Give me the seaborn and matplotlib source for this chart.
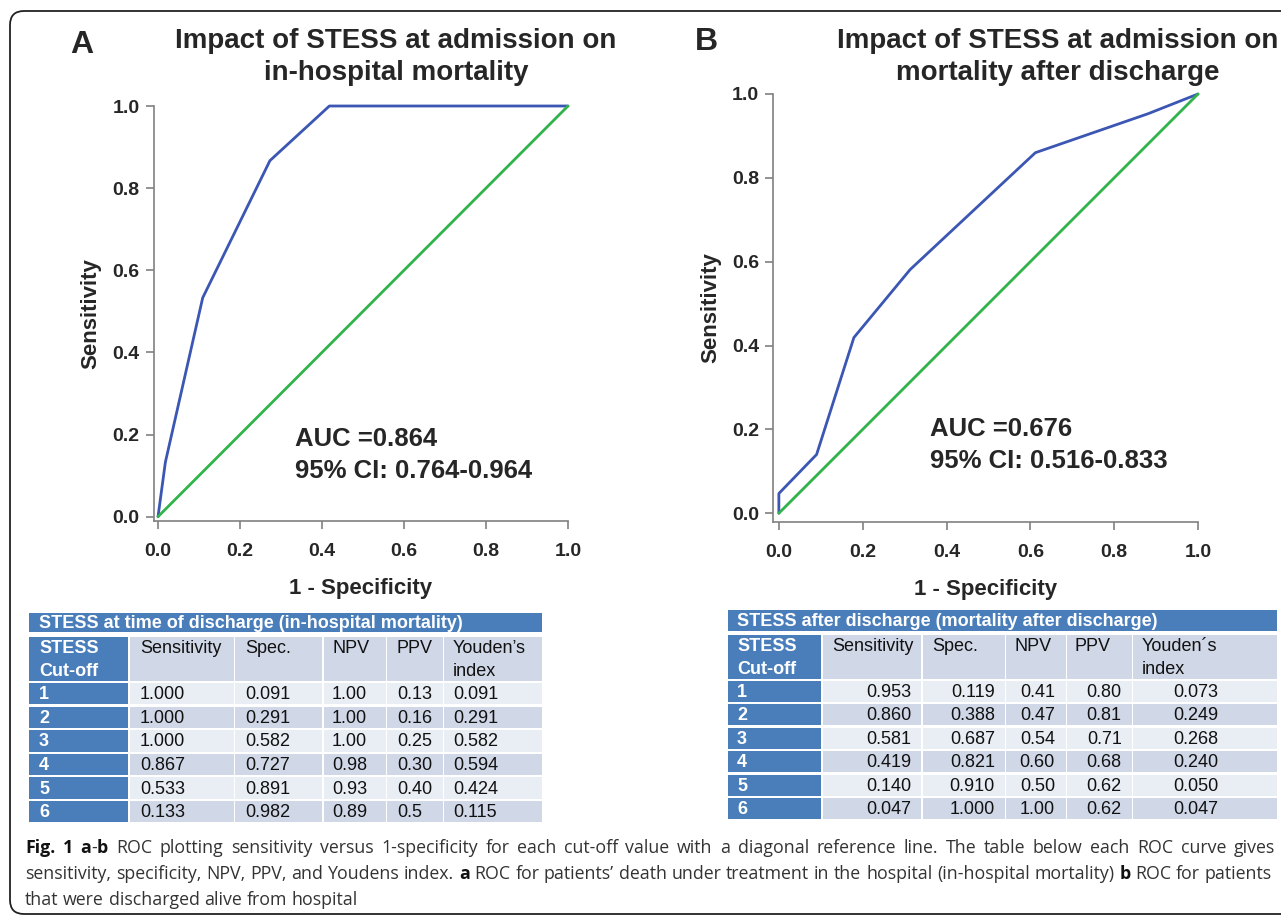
import numpy as np
import pandas as pd
import matplotlib
matplotlib.use("Agg")
import matplotlib.pyplot as plt
import seaborn as sns
from matplotlib.patches import Rectangle, FancyBboxPatch

# --- table values (as printed) ---
cutoffs = ["1", "2", "3", "4", "5", "6"]
header = ["STESS\nCut-off", "Sensitivity", "Spec.", "NPV", "PPV"]

sens_a = ["1.000", "1.000", "1.000", "0.867", "0.533", "0.133"]
spec_a = ["0.091", "0.291", "0.582", "0.727", "0.891", "0.982"]
npv_a = ["1.00", "1.00", "1.00", "0.98", "0.93", "0.89"]
ppv_a = ["0.13", "0.16", "0.25", "0.30", "0.40", "0.5"]
youden_a = ["0.091", "0.291", "0.582", "0.594", "0.424", "0.115"]

sens_b = ["0.953", "0.860", "0.581", "0.419", "0.140", "0.047"]
spec_b = ["0.119", "0.388", "0.687", "0.821", "0.910", "1.000"]
npv_b = ["0.41", "0.47", "0.54", "0.60", "0.50", "1.00"]
ppv_b = ["0.80", "0.81", "0.71", "0.68", "0.62", "0.62"]
youden_b = ["0.073", "0.249", "0.268", "0.240", "0.050", "0.047"]

diag = [0, 1]

title_a = "Impact of STESS at admission on\nin-hospital mortality"
title_b = "Impact of STESS at admission on\nmortality after discharge"
auc_a = "AUC =0.864\n95% CI: 0.764-0.964"
auc_b = "AUC =0.676\n95% CI: 0.516-0.833"
table_title_a = "STESS at time of discharge (in-hospital mortality)"
table_title_b = "STESS after discharge (mortality after discharge)"

BLUE_LINE = "#3b56b3"
GREEN_LINE = "#30b34a"
TBL_BLUE = "#4a7ebb"
TBL_DARK = "#d0d7e7"
TBL_LIGHT = "#e9edf4"
GRAY = "#808080"

sns.set_theme(style="white")
plt.rcParams["font.family"] = ["Liberation Sans", "DejaVu Sans"]

W, H = 1281, 917
fig = plt.figure(figsize=(W / 100, H / 100), dpi=100)

# background canvas in pixel units
canvas = fig.add_axes([0, 0, 1, 1], zorder=0)
canvas.set_xlim(0, W)
canvas.set_ylim(H, 0)
canvas.axis("off")
canvas.add_patch(FancyBboxPatch((10, 11), W + 40, 903, boxstyle="round,pad=0,rounding_size=14",
                                fc="white", ec="#222222", lw=1.3, clip_on=False))


def roc_panel(left, right, top, bottom, xmin, ymin, sens, spec):
    ax = fig.add_axes([left / W, 1 - bottom / H, (right - left) / W, (bottom - top) / H], zorder=2)
    ax.set_facecolor("none")
    tpr = [0.0] + [float(v) for v in sens[::-1]] + [1.0]
    fpr = [0.0] + [1 - float(v) for v in spec[::-1]] + [1.0]
    df = pd.DataFrame({"fpr": fpr, "tpr": tpr})
    sns.lineplot(data=df, x="fpr", y="tpr", sort=False, estimator=None, color=BLUE_LINE,
                 lw=2.0, ax=ax, clip_on=False)
    sns.lineplot(x=diag, y=diag, sort=False, estimator=None, color=GREEN_LINE, lw=2.0, ax=ax,
                 clip_on=False)
    ax.set_xlim(xmin, 1.0)
    ax.set_ylim(ymin, 1.0)
    ticks = [0.0, 0.2, 0.4, 0.6, 0.8, 1.0]
    ax.set_xticks(ticks)
    ax.set_yticks(ticks)
    ax.set_xticklabels([f"{t:.1f}" for t in ticks])
    ax.set_yticklabels([f"{t:.1f}" for t in ticks])
    for s in ["top", "right"]:
        ax.spines[s].set_visible(False)
    for s in ["left", "bottom"]:
        ax.spines[s].set_color(GRAY)
        ax.spines[s].set_linewidth(1.2)
    ax.tick_params(axis="both", direction="out", length=6, width=1.2, color=GRAY,
                   labelsize=14, left=True, bottom=True)
    ax.tick_params(axis="x", pad=10)
    ax.tick_params(axis="y", pad=4)
    for lab in ax.get_xticklabels() + ax.get_yticklabels():
        lab.set_fontweight("bold")
    ax.set_xlabel("1 - Specificity", fontsize=16, fontweight="bold", labelpad=13)
    ax.set_ylabel("Sensitivity", fontsize=16, fontweight="bold", labelpad=8)
    return ax


ax_a = roc_panel(153.5, 568, 106, 521, -0.011, -0.0105, sens_a, spec_a)
ax_b = roc_panel(773, 1198, 94, 522, -0.014, -0.021, sens_b, spec_b)

# titles and panel letters
canvas.text(82, 45, "A", fontsize=23, fontweight="bold", ha="center", va="center")
canvas.text(706, 42, "B", fontsize=23, fontweight="bold", ha="center", va="center")
canvas.text(396, 57, title_a, fontsize=20, fontweight="bold", ha="center", va="center",
            linespacing=1.25)
canvas.text(1058, 57, title_b, fontsize=20, fontweight="bold", ha="center", va="center",
            linespacing=1.25)
canvas.text(295, 455, auc_a, fontsize=18.5, fontweight="bold", ha="left", va="center",
            linespacing=1.45)
canvas.text(930, 445, auc_b, fontsize=18.5, fontweight="bold", ha="left", va="center",
            linespacing=1.45)


def draw_table(cols, title_rows, head_rows, first_row, pitch, title, youden_label,
               columns, text_x, right_align):
    x0, x1 = cols[0][0], cols[-1][1]
    canvas.add_patch(Rectangle((x0, title_rows[0]), x1 - x0, title_rows[1] - title_rows[0],
                               fc=TBL_BLUE, ec="none"))
    canvas.text(text_x[0], (title_rows[0] + title_rows[1]) / 2 + 1, title, fontsize=13,
                fontweight="bold", color="white", ha="left", va="center")
    # header
    heads = header + [youden_label]
    for i, (c0, c1) in enumerate(cols):
        canvas.add_patch(Rectangle((c0, head_rows[0]), c1 - c0, head_rows[1] - head_rows[0],
                                   fc=TBL_BLUE if i == 0 else TBL_DARK, ec="none"))
        canvas.text(text_x[i], head_rows[0] + 3, heads[i], fontsize=13,
                    fontweight="bold" if i == 0 else "normal",
                    color="white" if i == 0 else "#111111", ha="left", va="top",
                    linespacing=1.45)
    # data rows
    for r in range(len(cutoffs)):
        y0 = first_row + r * pitch
        h = pitch - 2.3
        for i, (c0, c1) in enumerate(cols):
            if i == 0:
                fc = TBL_BLUE
            else:
                fc = TBL_LIGHT if r % 2 == 0 else TBL_DARK
            canvas.add_patch(Rectangle((c0, y0), c1 - c0, h, fc=fc, ec="none"))
            val = cutoffs[r] if i == 0 else columns[i - 1][r]
            if i == 0:
                canvas.text(text_x[0], y0 + h / 2 + 1, val, fontsize=13, fontweight="bold",
                            color="white", ha="left", va="center")
            elif right_align:
                canvas.text(right_align[i - 1], y0 + h / 2 + 1, val, fontsize=13,
                            color="#111111", ha="right", va="center")
            else:
                canvas.text(text_x[i], y0 + h / 2 + 1, val, fontsize=13,
                            color="#111111", ha="left", va="center")


draw_table([(29, 128), (129.5, 233.5), (235, 322), (323.5, 385.5), (387, 442.5), (444, 542)],
           (613, 632), (637, 681), 683, 23.6, table_title_a, "Youden\u2019s\nindex",
           [sens_a, spec_a, npv_a, ppv_a, youden_a],
           [39, 140, 245, 332, 397, 453], None)

draw_table([(728, 821), (822.7, 921), (922.7, 1004.5), (1006, 1065.5), (1067, 1131.7), (1133, 1277)],
           (610, 630.5), (635, 679), 680.7, 23.5, table_title_b, "Youden\u00b4s\nindex",
           [sens_b, spec_b, npv_b, ppv_b, youden_b],
           [737, 832, 932, 1014, 1075, 1142], [911.7, 995, 1055, 1121.7, 1218])

# caption with mixed weights, justified like the journal layout
renderer = fig.canvas.get_renderer()
CAP_FONT = ["Open Sans", "DejaVu Sans"]
CAP_SIZE = 12.8


def tokens(pieces):
    # split pieces into (word, bold, space_before)
    out = []
    for txt, bold in pieces:
        lead = txt.startswith(" ")
        words = txt.strip().split(" ")
        for k, w in enumerate(words):
            out.append((w, bold, lead if k == 0 else True))
    return out


def rich_line(x, y, pieces, justify_to=None):
    toks = tokens(pieces)
    arts = []
    for w, bold, sp in toks:
        t = canvas.text(0, y, w, fontsize=CAP_SIZE, fontweight="bold" if bold else "normal",
                        family=CAP_FONT, color="#111111" if bold else "#333333",
                        ha="left", va="center")
        arts.append((t, t.get_window_extent(renderer).width, sp))
    n_gaps = sum(1 for _, _, sp in arts if sp)
    total = sum(wd for _, wd, _ in arts)
    a = canvas.text(0, 0, "n n", fontsize=CAP_SIZE, family=CAP_FONT)
    b = canvas.text(0, 0, "nn", fontsize=CAP_SIZE, family=CAP_FONT)
    gap = a.get_window_extent(renderer).width - b.get_window_extent(renderer).width
    a.remove()
    b.remove()
    if justify_to is not None and n_gaps:
        gap = (justify_to - x - total) / n_gaps
    for t, wd, sp in arts:
        if sp:
            x += gap
        t.set_x(x)
        x += wd


rich_line(25, 848, [("Fig. 1 a", True), ("-", False), ("b", True),
                    (" ROC plotting sensitivity versus 1-specificity for each cut-off value with a "
                     "diagonal reference line. The table below each ROC curve gives", False)],
          justify_to=1275)
rich_line(25, 874, [("sensitivity, specificity, NPV, PPV, and Youdens index.", False), (" a", True),
                    (" ROC for patients\u2019 death under treatment in the hospital (in-hospital "
                     "mortality)", False), (" b", True), (" ROC for patients", False)],
          justify_to=1272)
rich_line(25, 900, [("that were discharged alive from hospital", False)])

fig.savefig("out.png", dpi=100)
